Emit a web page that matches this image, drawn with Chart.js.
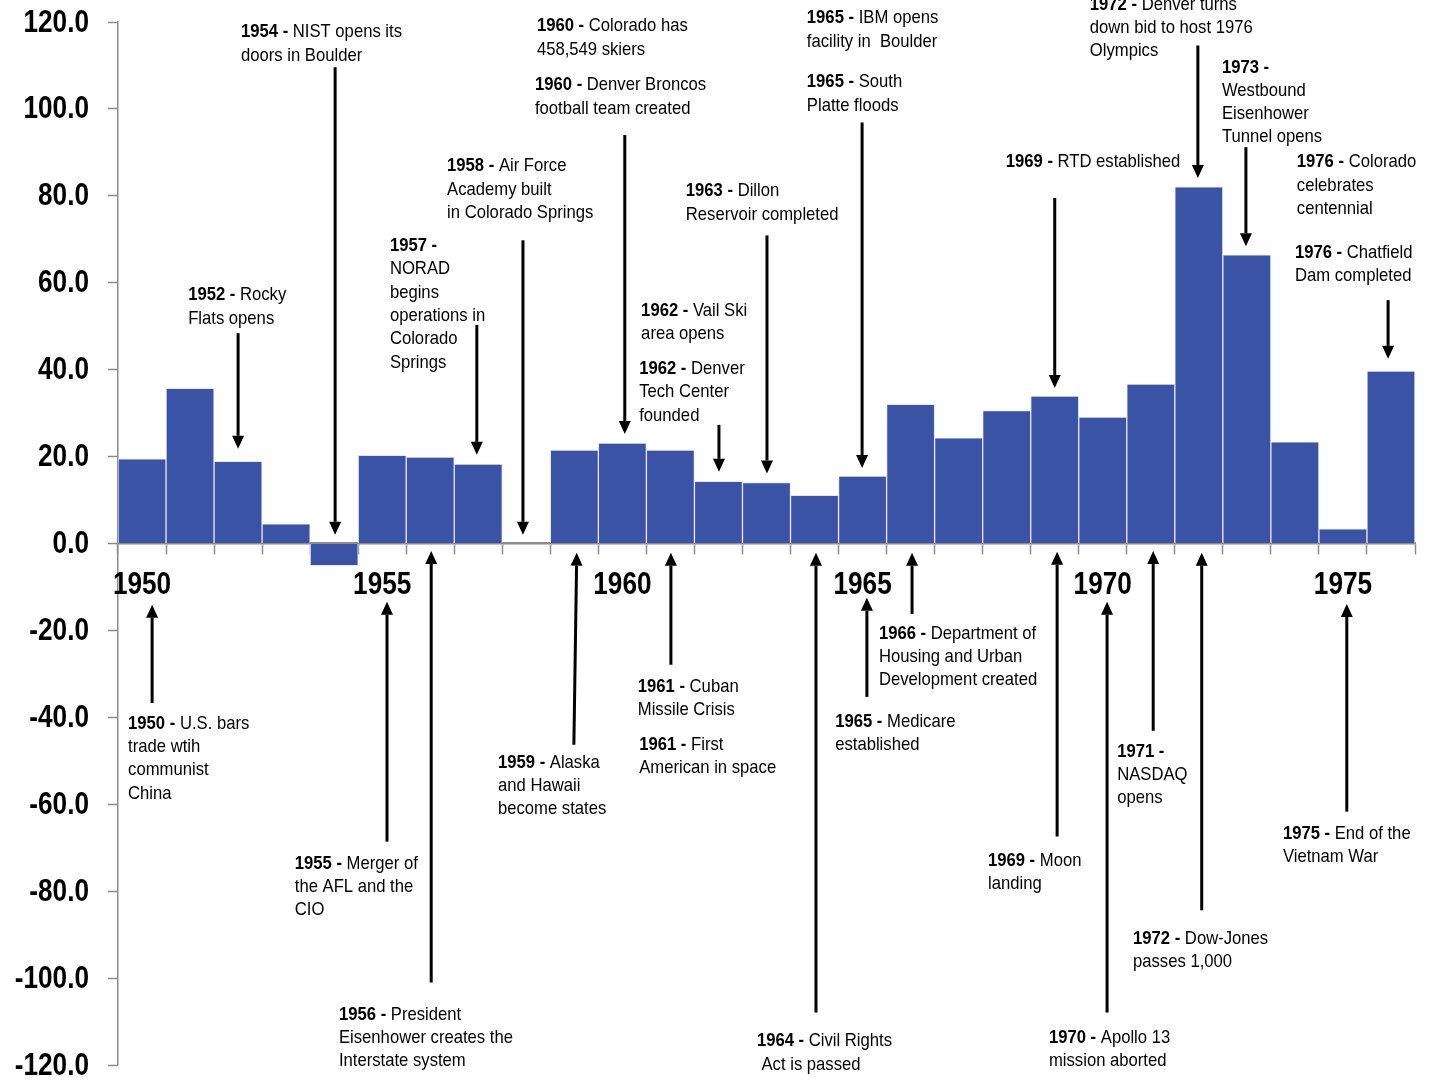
<!DOCTYPE html>
<html><head><meta charset="utf-8">
<script src="https://cdn.jsdelivr.net/npm/chart.js@4.4.1/dist/chart.umd.min.js"></script>
<style>html,body{margin:0;padding:0;background:#fff}#wrap{width:1433px;height:1080px}</style>
</head><body><div id="wrap"><canvas id="c" width="1433" height="1080"></canvas></div>
<script>
const categories = ["1950","1951","1952","1953","1954","1955","1956","1957","1958","1959","1960","1961","1962","1963","1964","1965","1966","1967","1968","1969","1970","1971","1972","1973","1974","1975","1976"];
const values = [19.5, 35.7, 18.9, 4.5, -5.1, 20.3, 19.9, 18.3, null, 21.5, 23.1, 21.5, 14.3, 14.0, 11.1, 15.5, 32.0, 24.3, 30.6, 33.9, 29.1, 36.7, 82.1, 66.4, 23.4, 3.4, 39.7];
const xTickLabels = ["1950","1955","1960","1965","1970","1975"];
const yMin = -120, yMax = 120, yStep = 20;

// annotations: text anchored at (category index, value); arrows [x1,y1 (tail), x2,y2 (tip)] in the same units
const events = [
  {year:'1952', text:['Rocky','Flats opens'], x:0.96, y:57.6, arrow:[2.0,48.4,2.0,21.8]},
  {year:'1954', text:['NIST opens its','doors in Boulder'], x:2.06, y:118.1, arrow:[4.02,109.6,4.02,2.0]},
  {year:'1957', text:['','NORAD','begins','operations in','Colorado','Springs'], x:5.16, y:68.9, arrow:[6.97,50.3,6.97,20.4]},
  {year:'1958', text:['Air Force','Academy built','in Colorado Springs'], x:6.35, y:87.3, arrow:[7.93,69.8,7.93,2.0]},
  {year:'1960', text:['Colorado has','458,549 skiers'], x:8.22, y:119.5, arrow:null},
  {year:'1960', text:['Denver Broncos','football team created'], x:8.18, y:105.9, arrow:[10.05,94.0,10.05,25.2]},
  {year:'1963', text:['Dillon','Reservoir completed'], x:11.32, y:81.5, arrow:[13.01,70.9,13.01,16.1]},
  {year:'1962', text:['Vail Ski','area opens'], x:10.39, y:54.0, arrow:null},
  {year:'1962', text:['Denver','Tech Center','founded'], x:10.35, y:40.6, arrow:[12.01,27.3,12.01,16.5]},
  {year:'1965', text:['IBM opens','facility in  Boulder'], x:13.84, y:121.3, arrow:null},
  {year:'1965', text:['South','Platte floods'], x:13.84, y:106.6, arrow:[14.99,96.9,14.99,17.4]},
  {year:'1969', text:['RTD established'], x:17.98, y:88.2, arrow:[19.0,79.5,19.0,35.8]},
  {year:'1972', text:['Denver turns','down bid to host 1976','Olympics'], x:19.73, y:124.5, arrow:[21.98,114.6,21.98,84.1]},
  {year:'1973', text:['','Westbound','Eisenhower','Tunnel opens'], x:22.48, y:110.0, arrow:[22.98,91.2,22.98,68.4]},
  {year:'1976', text:['Colorado','celebrates','centennial'], x:24.04, y:88.2, arrow:null},
  {year:'1976', text:['Chatfield','Dam completed'], x:24.0, y:67.3, arrow:[25.94,56.0,25.94,42.5]},
  {year:'1950', text:['U.S. bars','trade wtih','communist','China'], x:-0.29, y:-41.0, arrow:[0.21,-36.7,0.21,-14.1]},
  {year:'1955', text:['Merger of','the AFL and the','CIO'], x:3.18, y:-73.2, arrow:[5.10,-68.6,5.10,-13.4]},
  {year:'1956', text:['President','Eisenhower creates the','Interstate system'], x:4.10, y:-107.9, arrow:[6.02,-101.0,6.02,-1.7]},
  {year:'1959', text:['Alaska','and Hawaii','become states'], x:7.41, y:-50.0, arrow:[8.99,-46.3,9.05,-2.1]},
  {year:'1961', text:['Cuban','Missile Crisis'], x:10.32, y:-32.5, arrow:[11.01,-27.9,11.01,-2.1]},
  {year:'1961', text:['First','American in space'], x:10.35, y:-45.8, arrow:null},
  {year:'1964', text:['Civil Rights',' Act is passed'], x:12.80, y:-114.1, arrow:[14.03,-107.9,14.03,-2.1]},
  {year:'1965', text:['Medicare','established'], x:14.43, y:-40.5, arrow:[15.09,-35.3,15.09,-12.5]},
  {year:'1966', text:['Department of','Housing and Urban','Development created'], x:15.34, y:-20.3, arrow:[16.03,-16.2,16.03,-2.1]},
  {year:'1969', text:['Moon','landing'], x:17.61, y:-72.5, arrow:[19.05,-67.4,19.05,-1.9]},
  {year:'1970', text:['Apollo 13','mission aborted'], x:18.88, y:-113.2, arrow:[20.09,-107.9,20.09,-13.4]},
  {year:'1971', text:['','NASDAQ','opens'], x:20.30, y:-47.4, arrow:[21.05,-43.1,21.05,-1.7]},
  {year:'1972', text:['Dow-Jones','passes 1,000'], x:20.63, y:-90.5, arrow:[22.06,-84.4,22.06,-2.1]},
  {year:'1975', text:['End of the','Vietnam War'], x:23.75, y:-66.3, arrow:[25.08,-61.7,25.08,-13.9]}
];

const FAM = "'Liberation Sans','Arial',sans-serif";
const AXIS = '#8c8c8c';
const NARROW_SMALL = 0.9, NARROW_BIG = 0.845;

function narrowText(ctx, str, x, y, sx, align) {
  ctx.save();
  ctx.translate(x, y);
  ctx.scale(sx, 1);
  ctx.textAlign = align;
  ctx.fillText(str, 0, 0);
  ctx.restore();
}

const annotPlugin = {
  id: 'annot',
  afterDraw(chart) {
    const ctx = chart.ctx, xs = chart.scales.x, ys = chart.scales.y;
    ctx.save();
    ctx.fillStyle = '#000'; ctx.strokeStyle = '#000';
    ctx.textBaseline = 'middle';

    // axis tick labels (from the library's scales)
    ctx.font = 'bold 31px ' + FAM;
    const labelRight = ys.right - 10 - 19;
    ys.ticks.forEach(t => {
      narrowText(ctx, Number(t.value).toFixed(1), labelRight, ys.getPixelForValue(t.value) + 1, NARROW_BIG, 'right');
    });
    const zeroY = ys.getPixelForValue(0);
    xs.ticks.forEach((t, i) => {
      const lab = categories[t.value];
      if (xTickLabels.includes(lab)) {
        narrowText(ctx, lab, xs.getPixelForTick(i), zeroY + 42, NARROW_BIG, 'center');
      }
    });

    // annotations
    const x0 = xs.getPixelForValue(0), step = xs.getPixelForValue(1) - x0;
    const px = i => x0 + i * step;
    const py = v => ys.getPixelForValue(v);
    const lineH = 23.3, dy = 2;
    for (const e of events) {
      const tx = px(e.x), ty = py(e.y) + dy;
      e.text.forEach((line, k) => {
        let xx = tx;
        if (k === 0) {
          ctx.font = 'bold 18.5px ' + FAM;
          const b = e.year + (line ? ' - ' : ' -');
          narrowText(ctx, b, xx, ty, NARROW_SMALL, 'left');
          xx += ctx.measureText(b).width * NARROW_SMALL;
        }
        ctx.font = '18.5px ' + FAM;
        narrowText(ctx, line, xx, ty + k * lineH, NARROW_SMALL, 'left');
      });
      if (e.arrow) {
        const [a, b, c, d] = e.arrow;
        const X1 = px(a), Y1 = py(b), X2 = px(c), Y2 = py(d);
        const ang = Math.atan2(Y2 - Y1, X2 - X1);
        const hl = 13, hw = 6;
        const bx = X2 - hl * Math.cos(ang), by = Y2 - hl * Math.sin(ang);
        ctx.lineWidth = 3;
        ctx.beginPath(); ctx.moveTo(X1, Y1); ctx.lineTo(bx, by); ctx.stroke();
        ctx.beginPath(); ctx.moveTo(X2, Y2);
        ctx.lineTo(bx + hw * Math.sin(ang), by - hw * Math.cos(ang));
        ctx.lineTo(bx - hw * Math.sin(ang), by + hw * Math.cos(ang));
        ctx.closePath(); ctx.fill();
      }
    }
    ctx.restore();
  }
};

new Chart(document.getElementById('c'), {
  type: 'bar',
  data: {
    labels: categories,
    datasets: [{
      data: values,
      backgroundColor: '#3A53A4',
      borderColor: '#e4e8f3',
      borderWidth: 1,
      barPercentage: 1,
      categoryPercentage: 1
    }]
  },
  options: {
    responsive: false,
    animation: false,
    devicePixelRatio: 1,
    layout: { padding: { left: 0, right: 18, top: 22, bottom: 15 } },
    plugins: { legend: { display: false }, tooltip: { enabled: false } },
    scales: {
      x: {
        position: { y: 0 },
        grid: { offset: true, drawOnChartArea: false, drawTicks: true, tickLength: 10, color: AXIS, tickWidth: 1.5 },
        border: { color: AXIS, width: 2.5 },
        ticks: { display: false, autoSkip: false, maxRotation: 0, minRotation: 0 }
      },
      y: {
        position: 'left',
        min: yMin, max: yMax,
        afterFit: s => { s.width = 118; },
        grid: { drawOnChartArea: false, drawTicks: true, tickLength: 10, color: AXIS, tickWidth: 1.5 },
        border: { color: AXIS, width: 1.5 },
        ticks: { display: false, stepSize: yStep }
      }
    }
  },
  plugins: [annotPlugin]
});
</script>
</body></html>
